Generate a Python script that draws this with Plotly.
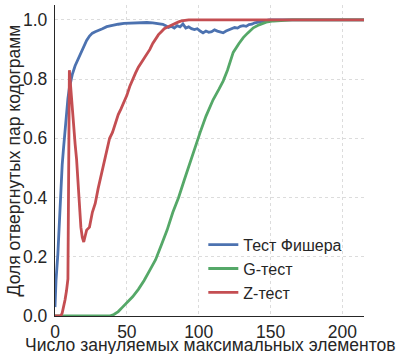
import plotly.graph_objects as go

# Fisher test
fisher_x = [0, 0.7, 2, 3, 4, 5, 6, 7, 8, 9, 10, 12, 14, 16, 18, 20, 22, 24, 26, 28, 30, 33, 36, 40, 44, 48,
            52, 56, 60, 64, 68, 72, 75, 77, 79, 81, 83, 85, 87, 89, 91, 93, 95, 97, 99, 101, 103, 105,
            107, 109, 111, 113, 115, 117, 119, 121, 123, 125, 127, 129, 131, 133, 135, 137, 139, 141,
            143, 145, 147, 149, 152, 160, 180, 200, 216]
fisher_y = [0.03, 0.12, 0.21, 0.33, 0.43, 0.51, 0.57, 0.63, 0.68, 0.735, 0.77, 0.815, 0.845, 0.866, 0.89,
            0.91, 0.93, 0.945, 0.955, 0.96, 0.965, 0.97, 0.977, 0.982, 0.985, 0.988,
            0.989, 0.99, 0.99, 0.991, 0.99, 0.988, 0.985, 0.98, 0.974, 0.978, 0.972, 0.98, 0.976, 0.986,
            0.972, 0.976, 0.97, 0.967, 0.97, 0.962, 0.956, 0.962, 0.958, 0.96, 0.966, 0.962, 0.958,
            0.956, 0.962, 0.966, 0.97, 0.974, 0.972, 0.978, 0.98, 0.978, 0.984, 0.985, 0.99, 0.992,
            0.994, 0.996, 0.998, 1.0, 1.0, 1.0, 1.0, 1.0, 1.0]

# G-test
g_x = [0, 38, 41, 44, 47, 50, 54, 58, 62, 66, 70, 74, 78, 82, 86, 90, 94, 98, 101, 105, 110, 114, 117,
       120, 124, 128, 131, 134, 138, 142, 147, 152, 158, 165, 180, 216]
g_y = [0, 0, 0.005, 0.015, 0.03, 0.045, 0.065, 0.09, 0.12, 0.155, 0.19, 0.24, 0.29, 0.35, 0.4, 0.46,
       0.52, 0.58, 0.62, 0.674, 0.73, 0.765, 0.793, 0.83, 0.89, 0.92, 0.94, 0.955, 0.973, 0.983, 0.992,
       0.996, 0.998, 1.0, 1.0, 1.0]

# Z-test
z_x = [0, 2, 4, 5, 6, 7, 8, 9, 10, 11, 12, 13, 14, 15, 16, 17, 18, 19, 20, 21, 22, 23, 24, 26, 28,
       30, 32, 34, 36, 38, 40, 42, 44, 46, 48, 50, 52, 54, 56, 58, 60, 62, 64, 66, 68, 70, 72, 74, 76,
       78, 80, 82, 84, 86, 88, 90, 93, 100, 120, 150, 180, 216]
z_y = [0, 0, 0, 0.01, 0.03, 0.055, 0.085, 0.125, 0.83, 0.76, 0.70, 0.64, 0.58, 0.53, 0.45, 0.36, 0.30,
       0.265, 0.25, 0.27, 0.29, 0.295, 0.30, 0.35, 0.38, 0.43, 0.47, 0.51, 0.56, 0.60, 0.62, 0.65, 0.68,
       0.70, 0.72, 0.745, 0.775, 0.80, 0.82, 0.84, 0.855, 0.87, 0.885, 0.90, 0.92, 0.935, 0.95, 0.96,
       0.97, 0.975, 0.98, 0.985, 0.99, 0.993, 0.996, 0.998, 1.0, 1.0, 1.0, 1.0, 1.0, 1.0]

series_names = ["Тест Фишера", "G-тест", "Z-тест"]
series_colors = ["#4C72B0", "#55A868", "#C44E52"]

x_ticks = [0, 50, 100, 150, 200]
y_ticks = [0.0, 0.2, 0.4, 0.6, 0.8, 1.0]
y_tick_text = ["0.0", "0.2", "0.4", "0.6", "0.8", "1.0"]
x_title = "Число зануляемых максимальных элементов"
y_title = "Доля отвергнутых пар кодограмм"

fig = go.Figure()
for xs, ys, name, col in zip([fisher_x, g_x, z_x], [fisher_y, g_y, z_y], series_names, series_colors):
    fig.add_trace(go.Scatter(x=xs, y=ys, mode="lines", name=name,
                             line=dict(color=col, width=2.8)))

font_family = "Liberation Sans, Arial, sans-serif"
fig.update_layout(
    width=403, height=354,
    margin=dict(l=55, r=39, t=5, b=38, autoexpand=False),
    paper_bgcolor="white", plot_bgcolor="white",
    font=dict(family=font_family, size=17, color="#262626"),
    showlegend=True,
    legend=dict(x=0.48, y=0.02, xanchor="left", yanchor="bottom",
                font=dict(size=16, color="#262626"), bgcolor="rgba(0,0,0,0)"),
    annotations=[
        dict(text=x_title, xref="paper", yref="paper", x=0.5, y=-0.093,
             xanchor="center", yanchor="middle", showarrow=False,
             font=dict(size=17.5, color="#262626")),
        dict(text=y_title, xref="paper", yref="paper", x=-0.133, y=0.5,
             xanchor="center", yanchor="middle", showarrow=False, textangle=-90,
             font=dict(size=17.5, color="#262626")),
    ],
)
fig.update_xaxes(range=[0, 215], tickvals=x_ticks, showgrid=True, gridcolor="#dcdcdc",
                 griddash="dot", gridwidth=1, showline=True, linecolor="#262626", linewidth=1.3,
                 zeroline=False, ticks="", ticklabelstandoff=0, automargin=False,
                 tickfont=dict(size=17.5))
fig.update_yaxes(range=[0, 1.05], tickvals=y_ticks, ticktext=y_tick_text, showgrid=True,
                 gridcolor="#dcdcdc", griddash="dot", gridwidth=1, showline=True,
                 linecolor="#262626", linewidth=1.3, zeroline=False, ticks="", ticklabelstandoff=3,
                 automargin=False, tickfont=dict(size=17.5))

fig.write_html("out.html", config={"displayModeBar": False},
               post_script="document.body.style.margin='0';")
